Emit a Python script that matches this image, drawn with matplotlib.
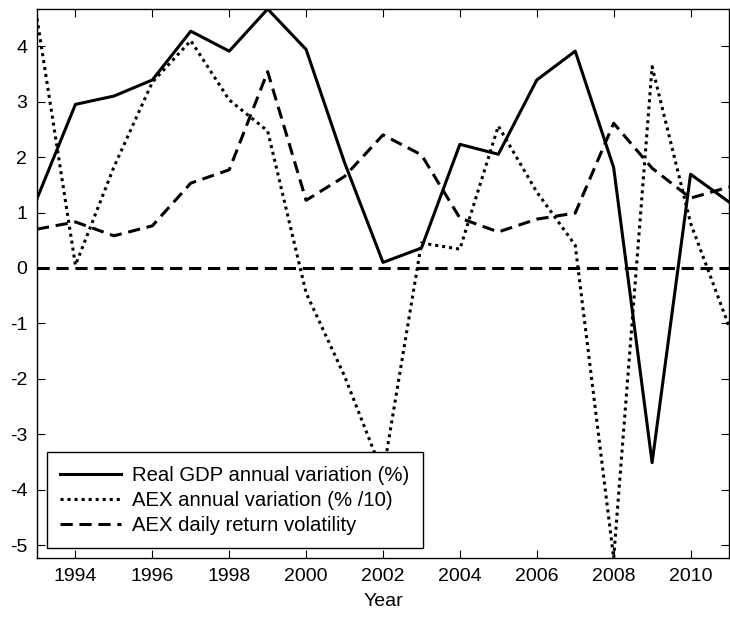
import matplotlib
matplotlib.use("Agg")
import matplotlib.pyplot as plt
import numpy as np

years = list(range(1993, 2012))
gdp = [1.25, 2.95, 3.10, 3.39, 4.27, 3.91, 4.67, 3.94, 1.90, 0.10, 0.36, 2.23,
       2.05, 3.39, 3.91, 1.81, -3.51, 1.69, 1.19]
aex = [4.50, 0.05, 1.82, 3.35, 4.10, 3.03, 2.47, -0.45, -1.95, -3.72, 0.45, 0.34,
       2.56, 1.37, 0.41, -5.23, 3.63, 0.81, -1.05]
vol = [0.70, 0.83, 0.58, 0.76, 1.53, 1.77, 3.54, 1.22, 1.65, 2.40, 2.04, 0.90,
       0.65, 0.88, 0.99, 2.61, 1.80, 1.26, 1.46]
labels = ["Real GDP annual variation (%)", "AEX annual variation (% /10)",
          "AEX daily return volatility"]
xticks = [1994, 1996, 1998, 2000, 2002, 2004, 2006, 2008, 2010]
yticks = [-5, -4, -3, -2, -1, 0, 1, 2, 3, 4]

plt.rcParams['font.family'] = ['Liberation Sans', 'DejaVu Sans']
plt.rcParams['font.size'] = 14
plt.rcParams['axes.unicode_minus'] = False

fig = plt.figure(figsize=(7.30, 6.19), dpi=100)
ax = fig.add_axes([37/730, 1-558/619, 692/730, (558-9)/619])

lw = 2.2
ax.plot(years, gdp, color='black', lw=lw, label=labels[0])
ax.plot(years, aex, color='black', lw=lw, linestyle=(0, (1, 1.3)), label=labels[1])
ax.plot(years, vol, color='black', lw=lw, linestyle=(0, (4, 2.2)), label=labels[2])
ax.axhline(0, color='black', lw=lw, linestyle=(0, (4, 2.2)))

ax.set_xlim(years[0], years[-1])
allv = gdp + aex + vol
ax.set_ylim(min(allv), max(allv))
ax.set_xticks(xticks)
ax.set_yticks(yticks)
ax.tick_params(direction='in', length=6, width=0.8, top=True, right=True,
               labelsize=14, pad=7, colors='black')
for s in ax.spines.values():
    s.set_linewidth(1.0)
ax.set_xlabel("Year", fontsize=14, labelpad=6)

leg = ax.legend(loc='lower left', bbox_to_anchor=(10/692, 10/549), frameon=True,
                fancybox=False, edgecolor='black', framealpha=1,
                handlelength=3.0, handletextpad=0.55, labelspacing=0.3,
                borderpad=0.65, borderaxespad=0, fontsize=14.6)
leg.get_frame().set_linewidth(1.0)

fig.savefig("out.png", dpi=100)
